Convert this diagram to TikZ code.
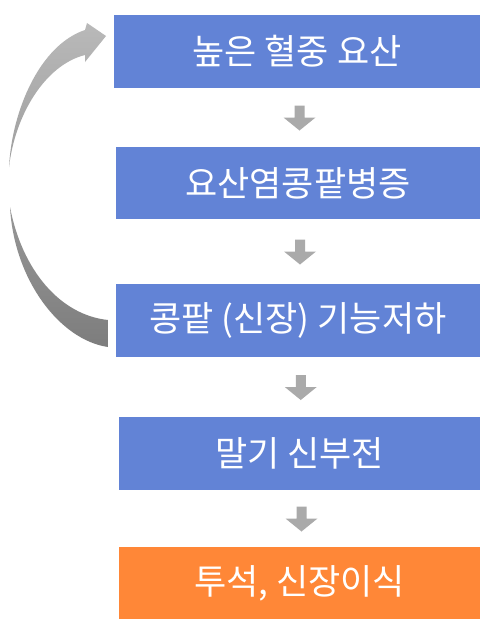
\documentclass[tikz,border=0pt]{standalone}
\usepackage{fontspec}
\newfontfamily\kr{Noto Sans CJK KR}
\usetikzlibrary{calc}
\definecolor{boxblue}{RGB}{98,131,214}
\definecolor{boxorange}{RGB}{255,135,55}
\definecolor{arrowgray}{RGB}{170,170,170}
\definecolor{curvetop}{RGB}{185,185,185}
\definecolor{curvebot}{RGB}{125,125,125}
\tikzset{
  stepbox/.style={fill=boxblue, draw=none, text=white, inner sep=0pt,
    font=\kr\fontsize{35}{40}\selectfont, anchor=center},
  endbox/.style={stepbox, fill=boxorange},
}
\begin{document}
\begin{tikzpicture}[x=1pt,y=-1pt]
\useasboundingbox (0,0) rectangle (493,633);
\fill[white] (0,0) rectangle (493,633);
\node[stepbox, minimum width=366pt, minimum height=73pt] (b1) at (297,51.5) {높은 혈중 요산};
\node[stepbox, minimum width=364pt, minimum height=72pt] (b2) at (298,183) {요산염콩팥병증};
\node[stepbox, minimum width=364pt, minimum height=73pt] (b3) at (298,320.5) {콩팥 (신장) 기능저하};
\node[stepbox, minimum width=361pt, minimum height=73pt] (b4) at (299.5,453.5) {말기 신부전};
\node[endbox, minimum width=361pt, minimum height=72pt] (b5) at (299.5,583) {투석, 신장이식};
\foreach \a/\b in {b1/b2,b2/b3,b3/b4,b4/b5}{
  \fill[arrowgray, shift={($(\a.south)!0.5!(\b.north)$)}]
    (-3,-12) -- (7,-12) -- (7,0) -- (18,0) -- (2,13) -- (-14,0) -- (-3,0) -- cycle;
}
% curved feedback arrow from b3 back to b1
\shade[top color=curvetop, bottom color=curvebot]
  (9,167) .. controls (12,110) and (40,45) .. (85,30)
  -- (87,23) -- (106,36) -- (85,62) -- (85,55)
  .. controls (45,65) and (15,115) .. (9,167) -- cycle
  (10,207) .. controls (14,280) and (60,340) .. (108,347)
  -- (108,320)
  .. controls (60,315) and (22,270) .. (10,207) -- cycle;
\end{tikzpicture}
\end{document}
